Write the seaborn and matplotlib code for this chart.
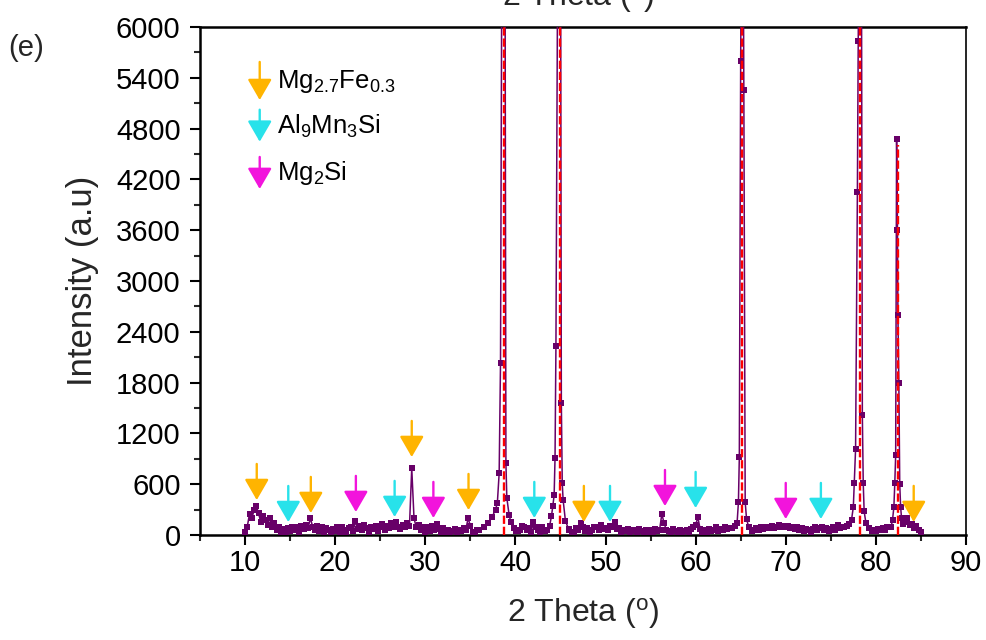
import numpy as np
import pandas as pd
import matplotlib
matplotlib.use("Agg")
import matplotlib.pyplot as plt
import seaborn as sns

# ---------------- data ----------------
base_start = 10.0
base_step = 0.25
base_counts = [
    40, 100, 250, 200, 290, 340, 260, 150, 230, 180, 120, 200, 90, 140, 60, 90, 40, 70, 30, 80,
    50, 100, 60, 90, 40, 110, 70, 120, 80, 200, 100, 60, 110, 50, 90, 40, 80, 60, 30, 70,
    50, 90, 40, 100, 60, 30, 80, 100, 50, 160, 70, 110, 60, 120, 80, 40, 100, 70, 110, 50,
    90, 130, 60, 110, 80, 140, 90, 150, 100, 70, 120, 90, 140, 110, 790, 200, 90, 120, 60, 100,
    40, 90, 50, 110, 60, 130, 70, 40, 80, 40, 60, 30, 50, 70, 40, 60, 50, 80, 60, 200,
    110, 40, 30, 60, 60, 90, 140, 210, 300, 700, 9000, 850, 240, 150, 80, 60, 50, 60, 80, 50,
    60, 50, 60, 110, 100, 60, 80, 40, 150, 90, 60, 40, 90, 50, 60, 110, 220, 900, 9000, 1560,
    300, 170, 70, 60, 60, 30, 40, 80, 60, 140, 90, 50, 80, 40, 60, 90, 100, 60, 120, 70,
    80, 60, 110, 90, 150, 70, 80, 40, 60, 50, 70, 30, 60, 50, 40, 70, 50, 40, 60, 30,
    60, 40, 70, 50, 60, 250, 140, 60, 50, 40, 70, 50, 40, 60, 30, 50, 60, 40, 70, 100,
    120, 210, 70, 40, 60, 40, 70, 50, 60, 90, 50, 70, 60, 100, 70, 80, 80, 120, 900, 9000,
    400, 150, 80, 50, 50, 70, 60, 80, 60, 90, 70, 100, 80, 90, 110, 80, 100, 120, 100, 110,
    90, 110, 80, 100, 70, 90, 60, 80, 50, 70, 60, 40, 70, 90, 60, 80, 100, 60, 80, 50,
    70, 90, 60, 120, 80, 100, 95, 110, 130, 300, 1000, 9000, 1400, 300, 140, 80, 50, 60, 60, 60,
    50, 70, 60, 80, 60, 90, 100, 140, 600, 4600, 1800, 300, 150, 150, 200, 120, 130, 80, 110, 60,
    40,
]

peak1_x = [36.0, 36.5, 37.0, 37.4, 37.8, 38.0, 38.2, 38.35, 38.5, 38.7, 38.85, 38.95, 39.05, 39.3, 39.5, 39.8, 40.1]
peak1_y = [60, 90, 140, 210, 300, 380, 730, 2030, 7000, 9500, 7000, 850, 440, 240, 150, 80, 50]
peak2_x = [43.5, 43.8, 44.0, 44.15, 44.3, 44.4, 44.5, 44.7, 44.85, 45.0, 45.1, 45.2, 45.3, 45.55, 45.9]
peak2_y = [60, 110, 220, 340, 470, 910, 2230, 7000, 9500, 8000, 1560, 610, 410, 170, 70]
peak3_x = [64.0, 64.4, 64.6, 64.75, 64.85, 65.0, 65.2, 65.35, 65.5, 65.65, 65.9, 66.3]
peak3_y = [80, 110, 140, 390, 920, 5600, 9500, 5250, 390, 190, 90, 50]
peak4_x = [77.0, 77.3, 77.5, 77.6, 77.75, 77.95, 78.05, 78.2, 78.4, 78.5, 78.6, 78.7, 78.9, 79.2, 79.6]
peak4_y = [130, 180, 330, 610, 1015, 4050, 5830, 9500, 7000, 1420, 610, 280, 140, 80, 50]
peak5_x = [81.7, 81.85, 82.0, 82.1, 82.2, 82.3, 82.4, 82.45, 82.55, 82.65, 82.75, 82.85, 83.0]
peak5_y = [100, 180, 330, 610, 950, 4680, 3600, 2600, 1800, 600, 330, 200, 130]

fit_centers = [38.7, 44.95, 65.2, 78.2, 82.5]
fit_heights = [9500, 9500, 9500, 9500, 4600]

orange_x = [11.3, 17.3, 28.5, 34.8, 47.6, 84.2]
orange_tip = [413, 260, 921, 295, 154, 154]
cyan_x = [14.8, 26.6, 42.1, 50.5, 60.0, 73.9]
cyan_tip = [153, 213, 201, 154, 319, 189]
magenta_x = [22.3, 30.9, 56.6, 70.0]
magenta_tip = [272, 201, 342, 189]

phase_labels = [r"Mg$\mathregular{_{2.7}}$Fe$\mathregular{_{0.3}}$",
                r"Al$\mathregular{_9}$Mn$\mathregular{_3}$Si",
                r"Mg$\mathregular{_2}$Si"]

# ---------------- assemble ----------------
bx = base_start + base_step * np.arange(len(base_counts))
by = np.array(base_counts, dtype=float)
keep = np.ones(len(bx), dtype=bool)
pxs = [peak1_x, peak2_x, peak3_x, peak4_x, peak5_x]
pys = [peak1_y, peak2_y, peak3_y, peak4_y, peak5_y]
for px in pxs:
    keep &= ~((bx >= min(px) - 1e-9) & (bx <= max(px) + 1e-9))
all_x = np.concatenate([bx[keep]] + [np.array(p) for p in pxs])
all_y = np.concatenate([by[keep]] + [np.array(p, dtype=float) for p in pys])
df = pd.DataFrame({"two_theta": all_x, "intensity": all_y}).sort_values("two_theta")

# ---------------- style ----------------
sns.set_theme(style="ticks")
plt.rcParams["font.family"] = ["Liberation Sans", "DejaVu Sans"]
plt.rcParams["mathtext.fontset"] = "custom"
plt.rcParams["mathtext.rm"] = "Liberation Sans"
plt.rcParams["mathtext.it"] = "Liberation Sans:italic"
plt.rcParams["mathtext.bf"] = "Liberation Sans:bold"

ORANGE = "#FFB400"
CYAN = "#28E2EA"
MAGENTA = "#F214DC"
PURPLE = "#680068"

fig = plt.figure(figsize=(9.87, 6.40), dpi=100)
ax = fig.add_axes([0.2026, 0.164, 0.7761, 0.794])

sns.lineplot(data=df, x="two_theta", y="intensity", ax=ax, color=PURPLE,
             linewidth=1.1, marker="s", markersize=4.0, markeredgewidth=0,
             estimator=None, sort=False, zorder=3)

ax.vlines(fit_centers, 0, fit_heights, colors="#FF0000", linestyles=(0, (3.5, 1.2)),
          linewidth=1.7, zorder=4)

ARROW = "-|>,head_width=0.55,head_length=0.95"

def draw_arrows(xs, tips, color):
    for x, t in zip(xs, tips):
        ax.annotate("", xy=(x, t), xytext=(0, 26), textcoords="offset points",
                    xycoords="data",
                    arrowprops=dict(arrowstyle=ARROW, mutation_scale=13.5, color=color,
                                    lw=1.7, shrinkA=0, shrinkB=0),
                    zorder=5)

draw_arrows(orange_x, orange_tip, ORANGE)
draw_arrows(cyan_x, cyan_tip, CYAN)
draw_arrows(magenta_x, magenta_tip, MAGENTA)

# legend (manual)
leg_tops = [0.931, 0.837, 0.744]
leg_tips = [0.856, 0.774, 0.681]
leg_text_y = [0.893, 0.805, 0.713]
for col, top, tip, ty, lab in zip([ORANGE, CYAN, MAGENTA], leg_tops, leg_tips, leg_text_y, phase_labels):
    ax.annotate("", xy=(0.078, tip), xytext=(0.078, top), xycoords="axes fraction",
                textcoords="axes fraction",
                arrowprops=dict(arrowstyle=ARROW, mutation_scale=13.5, color=col,
                                lw=1.7, shrinkA=0, shrinkB=0))
    ax.text(0.101, ty, lab, transform=ax.transAxes, fontsize=18.5, va="center", ha="left",
            color="black")

ax.set_xlim(5, 90)
ax.set_ylim(0, 6000)
ax.set_xticks(np.arange(10, 91, 10))
ax.set_xticks(np.arange(5, 91, 5), minor=True)
ax.set_yticks(np.arange(0, 6001, 600))
ax.set_yticks(np.arange(0, 6001, 300), minor=True)
ax.tick_params(axis="both", which="major", direction="out", length=7, width=1.5,
               labelsize=21, colors="black")
ax.tick_params(axis="y", which="major", pad=7)
ax.tick_params(axis="x", which="major", pad=3)
ax.tick_params(axis="both", which="minor", direction="out", length=4, width=1.5)
ax.tick_params(top=False, right=False, which="both")
for s in ["left", "bottom", "top"]:
    ax.spines[s].set_linewidth(1.8)
    ax.spines[s].set_color("black")
ax.spines["right"].set_linewidth(1.2)
ax.spines["right"].set_color("black")
ax.spines["right"].set_visible(True)
ax.spines["top"].set_visible(True)

ax.set_xlabel(r"2 Theta ($\mathregular{^o}$)", fontsize=23, labelpad=14)
ax.set_ylabel("Intensity (a.u)", fontsize=25, labelpad=12)

fig.text(0.008, 0.925, "(e)", fontsize=21, ha="left", va="center")
fig.text(0.586, 1.0 - 6 / 640, r"2 Theta ($\mathregular{^o}$)", fontsize=23,
         ha="center", va="baseline")

fig.savefig("out.png", dpi=100)
